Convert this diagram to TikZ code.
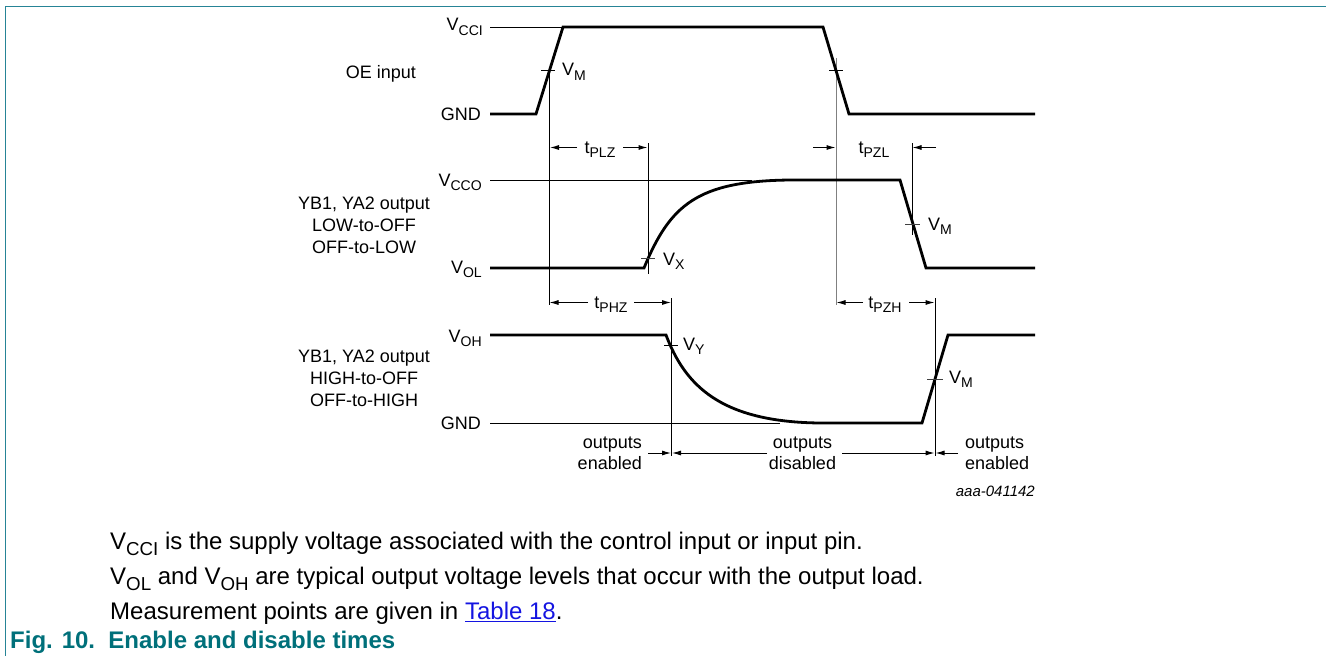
\documentclass[tikz,border=0pt]{standalone}
\usepackage{fontspec}
\setmainfont{Liberation Sans}
\usetikzlibrary{arrows.meta}
\definecolor{frameteal}{RGB}{38,132,150}
\definecolor{capteal}{RGB}{0,112,122}
\definecolor{linkblue}{RGB}{20,20,225}
\newcommand\sbs[1]{\raisebox{-0.25em}{\scalebox{0.78}{#1}}}
\newcommand\Vs[1]{V\sbs{#1}}
\begin{document}
\begin{tikzpicture}[x=1pt,y=-1pt,
  lbl/.style={font=\fontsize{18}{22}\selectfont, inner sep=0pt},
  body/.style={font=\fontsize{24}{30}\selectfont, inner sep=0pt, anchor=base west},
  wave/.style={line width=2.8pt},
  thinln/.style={line width=1pt},
  greyln/.style={line width=1pt, draw=black!50},
  tick/.style={line width=1pt, draw=black!75},
  dim/.style={line width=1pt, -{Latex[length=9pt,width=5pt]}}]
\useasboundingbox (0,0) rectangle (1326,656);
% frame
\draw[frameteal, line width=1.6pt] (5.5,656) -- (5.5,6.5) -- (1326,6.5);

% ---------- left labels ----------
\node[lbl,anchor=base] (oe) at (381,78.5) {OE input};
\node[lbl,anchor=base east] (vcci) at (483,30.5) {\Vs{CCI}};
\node[lbl,anchor=base east] (gnd1) at (481,120.5) {GND};

\node[lbl,anchor=base] (g2a) at (364,209.5) {YB1, YA2 output};
\node[lbl,anchor=base] (g2b) at (364,231.5) {LOW-to-OFF};
\node[lbl,anchor=base] (g2c) at (364,253.5) {OFF-to-LOW};
\node[lbl,anchor=base east] (vcco) at (482,186) {\Vs{CCO}};
\node[lbl,anchor=base east] (vol) at (482,273) {\Vs{OL}};

\node[lbl,anchor=base] (g3a) at (364,362.5) {YB1, YA2 output};
\node[lbl,anchor=base] (g3b) at (364,384.5) {HIGH-to-OFF};
\node[lbl,anchor=base] (g3c) at (364,406.5) {OFF-to-HIGH};
\node[lbl,anchor=base east] (voh) at (482,342) {\Vs{OH}};
\node[lbl,anchor=base east] (gnd3) at (481,429.5) {GND};

% ---------- reference lines ----------
\draw[thinln] (490,27) -- (563,27);
\draw[thinln] (490,180) -- (752,180);
\draw[thinln] (490,423) -- (780,423);

% ---------- vertical measurement lines ----------
\draw[thinln] (549,70) -- (549,305);
\draw[greyln] (836,58) -- (836,305);
\draw[thinln] (648,143) -- (648,274);
\draw[thinln] (912,143) -- (912,235);
\draw[thinln] (671.5,298) -- (671.5,456);
\draw[thinln] (935,298) -- (935,456);

% ---------- waveforms ----------
\draw[wave] (490,114) -- (536,114) -- (563,27) -- (823,27) -- (849,114) -- (1035,114);
\draw[wave] (490,268) -- (644,268) .. controls (670,205) and (697,181) .. (790,180) -- (900,180) -- (926,268) -- (1035,268);
\draw[wave] (490,335) -- (666,335) .. controls (685,385) and (720,422) .. (820,423) -- (922,423) -- (948,335) -- (1035,335);

% ---------- ticks ----------
\draw[thinln] (541,70) -- (555,70);
\draw[thinln] (829,70) -- (843,70);
\draw[tick] (641,258) -- (655,258);
\draw[tick] (905,224) -- (920,224);
\draw[thinln] (664,345) -- (678,345);
\draw[tick] (927,379) -- (943,379);

% ---------- level labels ----------
\node[lbl,anchor=base west] (vm1) at (562,75.5) {\Vs{M}};
\node[lbl,anchor=base west] (vx) at (663,265) {\Vs{X}};
\node[lbl,anchor=base west] (vm2) at (928,230) {\Vs{M}};
\node[lbl,anchor=base west] (vy) at (683,350) {\Vs{Y}};
\node[lbl,anchor=base west] (vm3) at (949,383) {\Vs{M}};

% ---------- timing labels ----------
\node[lbl,anchor=base] (tplz) at (600,153) {t\sbs{PLZ}};
\draw[dim] (577,147.5) -- (550,147.5);
\draw[dim] (623,147.5) -- (647.5,147.5);

\node[lbl,anchor=base] (tpzl) at (874,153) {t\sbs{PZL}};
\draw[dim] (813,147.5) -- (835.5,147.5);
\draw[dim] (936,147.5) -- (912.5,147.5);

\node[lbl,anchor=base] (tphz) at (611,308) {t\sbs{PHZ}};
\draw[dim] (588,302.5) -- (549.5,302.5);
\draw[dim] (634,302.5) -- (671,302.5);

\node[lbl,anchor=base] (tpzh) at (885,308) {t\sbs{PZH}};
\draw[dim] (863,302.5) -- (836.5,302.5);
\draw[dim] (909,302.5) -- (934.5,302.5);

% ---------- output state labels ----------
\node[lbl,anchor=base east] (en1a) at (642,448) {outputs};
\node[lbl,anchor=base east] (en1b) at (642,469) {enabled};
\draw[dim] (648,453) -- (671,453);

\node[lbl,anchor=base] (disa) at (802.5,448) {outputs};
\node[lbl,anchor=base] (disb) at (802.5,469) {disabled};
\draw[dim] (767,453) -- (672,453);
\draw[dim] (842,453) -- (934.5,453);

\node[lbl,anchor=base west] (en2a) at (965,448) {outputs};
\node[lbl,anchor=base west] (en2b) at (965,469) {enabled};
\draw[dim] (958,453) -- (935.5,453);

\node[font=\fontsize{15}{18}\selectfont\itshape, inner sep=0pt, anchor=base east] (code) at (1035,496) {aaa-041142};

% ---------- notes ----------
\node[body] (n1) at (110,549.5) {\Vs{CCI} is the supply voltage associated with the control input or input pin.};
\node[body] (n2) at (110,584.5) {\Vs{OL} and \Vs{OH} are typical output voltage levels that occur with the output load.};
\node[body] (n3) at (110,619.5) {Measurement points are given in {\color{linkblue}\underline{Table 18}}.};

\node[font=\fontsize{24}{30}\selectfont\bfseries, text=capteal, inner sep=0pt, anchor=base west] (cap) at (10,648.5) {Fig. 10.\ \ Enable and disable times};
\end{tikzpicture}
\end{document}
